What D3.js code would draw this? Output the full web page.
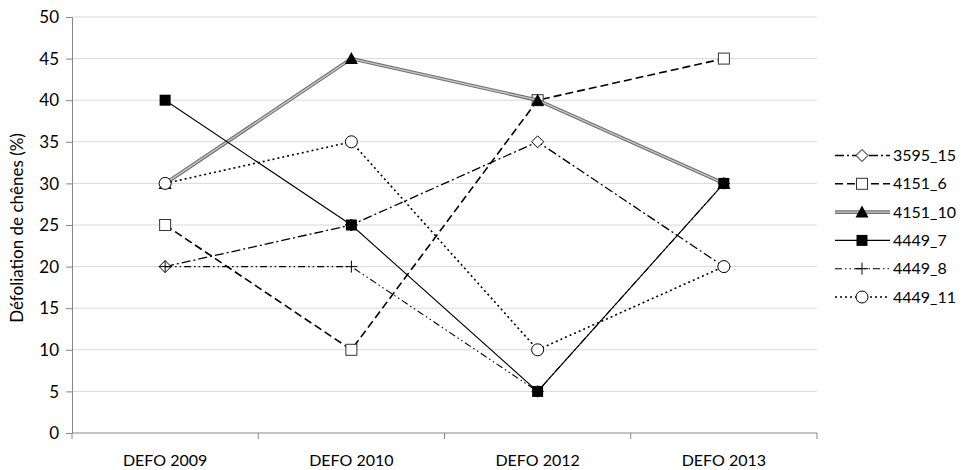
<!DOCTYPE html>
<html>
<head>
<meta charset="utf-8">
<script src="https://cdn.jsdelivr.net/npm/d3@7"></script>
<style>
  html, body { margin: 0; padding: 0; background: #fff; }
  text { font-family: Lato, "Open Sans", "Liberation Sans", sans-serif; fill: #000; }
</style>
</head>
<body>
<svg id="chart" width="961" height="470"></svg>
<script>
// Survey years on the x axis
const categories = ["DEFO 2009", "DEFO 2010", "DEFO 2012", "DEFO 2013"];

// Oak defoliation (%) per plot
const s3595_15 = [20, 25, 35, 20];
const s4151_6  = [25, 10, 40, 45];
const s4151_10 = [30, 45, 40, 30];
const s4449_7  = [40, 25, 5, 30];
const s4449_8  = [20, 20, 5, 30];
const s4449_11 = [30, 35, 10, 20];

const seriesNames = ["3595_15", "4151_6", "4151_10", "4449_7", "4449_8", "4449_11"];
const yTicks = [0, 5, 10, 15, 20, 25, 30, 35, 40, 45, 50];

const styles = {
  "3595_15": { dash: "9,3,2,3", width: 1.3, marker: "diamond" },
  "4151_6":  { dash: "8,4", width: 1.6, marker: "square" },
  "4151_10": { dash: null, width: 1, marker: "triangle", double: true },
  "4449_7":  { dash: null, width: 1.1, marker: "filledSquare" },
  "4449_8":  { dash: "7,3,1.5,3,1.5,3", width: 1.1, marker: "plus" },
  "4449_11": { dash: "2,3", width: 1.6, marker: "circle" }
};

const series = [s3595_15, s4151_6, s4151_10, s4449_7, s4449_8, s4449_11]
  .map((values, i) => ({ name: seriesNames[i], values }));

const svg = d3.select("#chart");
const m = { left: 72, right: 817, top: 17, bottom: 433 };

const x = d3.scaleBand().domain(categories).range([m.left, m.right]).padding(0);
const y = d3.scaleLinear().domain([0, 50]).range([m.bottom, m.top]);
const cx = c => x(c) + x.bandwidth() / 2;

// Horizontal gridlines
svg.append("g")
  .selectAll("line")
  .data(yTicks.filter(t => t > 0))
  .join("line")
  .attr("x1", m.left).attr("x2", m.right)
  .attr("y1", d => y(d)).attr("y2", d => y(d))
  .attr("stroke", "#d9d9d9").attr("stroke-width", 1);

// Y axis
const yAxis = svg.append("g")
  .attr("transform", `translate(${m.left},0)`)
  .call(d3.axisLeft(y).tickValues(yTicks).tickSize(6).tickPadding(7));
yAxis.select(".domain").attr("stroke", "#868686");
yAxis.selectAll(".tick line").attr("stroke", "#868686");
yAxis.selectAll(".tick text").style("font-size", "17px").attr("fill", "#000")
  .attr("dy", "0.34em");

// X axis with ticks at category boundaries
const xAxisG = svg.append("g").attr("transform", `translate(0,${m.bottom})`);
xAxisG.append("line")
  .attr("x1", m.left).attr("x2", m.right)
  .attr("stroke", "#868686");
xAxisG.selectAll("line.tick")
  .data(categories.concat([null]))
  .join("line")
  .attr("class", "tick")
  .attr("x1", d => d ? x(d) : m.right)
  .attr("x2", d => d ? x(d) : m.right)
  .attr("y1", 0).attr("y2", 6)
  .attr("stroke", "#868686");
xAxisG.selectAll("text")
  .data(categories)
  .join("text")
  .attr("x", d => cx(d))
  .attr("y", 33)
  .attr("text-anchor", "middle")
  .style("font-size", "16px")
  .text(d => d);

// Y axis title
svg.append("text")
  .attr("transform", `translate(23,${(m.top + m.bottom) / 2 + 3}) rotate(-90)`)
  .attr("text-anchor", "middle")
  .style("font-size", "17px")
  .text("Défoliation de chênes (%)");

const line = d3.line().x((d, i) => cx(categories[i])).y(d => y(d));

function drawLine(g, path, st) {
  if (st.double) {
    g.append("path").attr("d", path).attr("fill", "none")
      .attr("stroke", "#6f6f6f").attr("stroke-width", 3.6);
    g.append("path").attr("d", path).attr("fill", "none")
      .attr("stroke", "#c8c8c8").attr("stroke-width", 1.3);
  } else {
    g.append("path").attr("d", path).attr("fill", "none")
      .attr("stroke", "#000").attr("stroke-width", st.width)
      .attr("stroke-dasharray", st.dash);
  }
}

function drawMarker(g, type, px, py) {
  if (type === "diamond") {
    g.append("path")
      .attr("d", `M${px},${py - 6}L${px + 6},${py}L${px},${py + 6}L${px - 6},${py}Z`)
      .attr("fill", "#fff").attr("stroke", "#000").attr("stroke-width", 1);
  } else if (type === "square") {
    g.append("rect").attr("x", px - 5.5).attr("y", py - 5.5).attr("width", 11).attr("height", 11)
      .attr("fill", "#fff").attr("stroke", "#333").attr("stroke-width", 1);
  } else if (type === "filledSquare") {
    g.append("rect").attr("x", px - 5.5).attr("y", py - 5.5).attr("width", 11).attr("height", 11)
      .attr("fill", "#000");
  } else if (type === "triangle") {
    g.append("path")
      .attr("d", `M${px},${py - 6.5}L${px + 6.5},${py + 5.5}L${px - 6.5},${py + 5.5}Z`)
      .attr("fill", "#000");
  } else if (type === "plus") {
    g.append("path")
      .attr("d", `M${px - 6},${py}H${px + 6}M${px},${py - 6}V${py + 6}`)
      .attr("stroke", "#000").attr("stroke-width", 1);
  } else if (type === "circle") {
    g.append("circle").attr("cx", px).attr("cy", py).attr("r", 6)
      .attr("fill", "#fff").attr("stroke", "#000").attr("stroke-width", 1);
  }
}

// Series lines and markers
series.forEach(s => {
  const st = styles[s.name];
  const g = svg.append("g").attr("class", "series");
  drawLine(g, line(s.values), st);
  s.values.forEach((v, i) => drawMarker(g, st.marker, cx(categories[i]), y(v)));
});

// Legend
const legendTop = 155.5, legendStep = 28.3;
series.forEach((s, i) => {
  const st = styles[s.name];
  const ly = legendTop + i * legendStep;
  const g = svg.append("g").attr("class", "legend-item");
  drawLine(g, `M835,${ly}H890`, st);
  drawMarker(g, st.marker, 862, ly);
  g.append("text")
    .attr("x", 893).attr("y", ly + 5.5)
    .style("font-size", "16px")
    .text(s.name);
});
</script>
</body>
</html>
